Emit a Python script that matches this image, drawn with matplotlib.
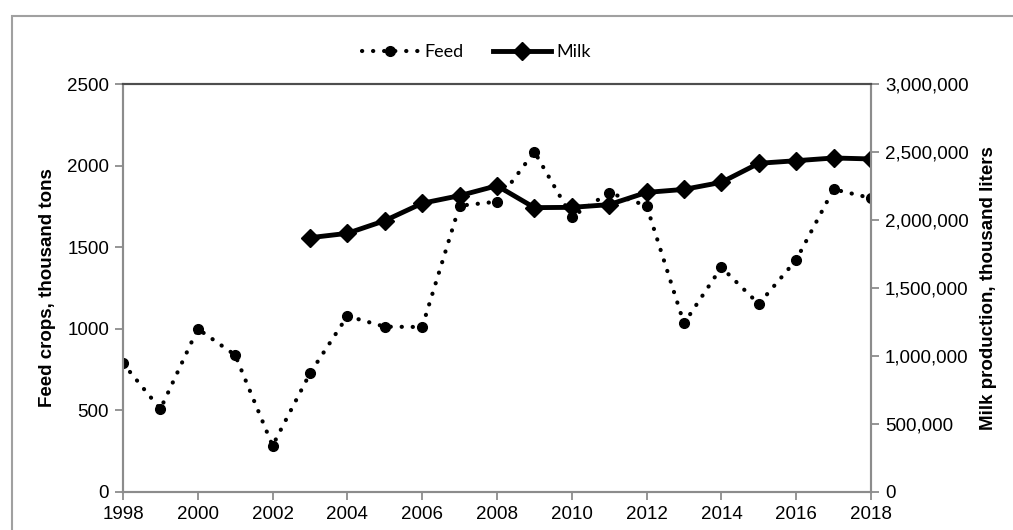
import numpy as np
import matplotlib
matplotlib.use('Agg')
import matplotlib.pyplot as plt
from matplotlib.patches import Rectangle
from matplotlib.ticker import FuncFormatter

years = list(range(1998, 2019))
feed = [788, 508, 1000, 839, 284, 727, 1078, 1013, 1011, 1754, 1779,
        2085, 1687, 1834, 1754, 1033, 1377, 1152, 1422, 1855, 1801]
milk_years = list(range(2003, 2019))
milk = [1870000, 1902000, 1995000, 2123000, 2179000, 2252000, 2091000, 2093000,
        2113000, 2203000, 2225000, 2277000, 2417000, 2436000, 2456000, 2449000]

plt.rcParams['font.family'] = ['Liberation Sans', 'DejaVu Sans']

fig = plt.figure(figsize=(10.13, 5.3), dpi=100)
ax = fig.add_axes([0.1214, 0.0717, 0.7384, 0.7698])
ax2 = ax.twinx()

# 外框
fig.patches.append(Rectangle((0.0114, -0.2), 1.2, 0.9698 + 0.2, transform=fig.transFigure,
                             fill=False, edgecolor='#a0a0a0', linewidth=1.5))

l1, = ax.plot(years, feed, color='black', linestyle=(0, (0.05, 2.6)), dash_capstyle='round',
              linewidth=3.0, marker='o', markersize=7, label='Feed')
l2, = ax2.plot(milk_years, milk, color='black', linewidth=3.5, marker='D', markersize=9, label='Milk')

ax.set_xlim(1998, 2018)
ax.set_ylim(0, 2500)
ax2.set_ylim(0, 3000000)
ax.set_xticks(range(1998, 2019, 2))
ax.set_yticks(range(0, 2501, 500))
ax2.set_yticks(range(0, 3000001, 500000))
ax2.yaxis.set_major_formatter(FuncFormatter(lambda v, p: f'{int(v):,}'))

for a in (ax, ax2):
    for s in a.spines.values():
        s.set_color('#8c8c8c')
        s.set_linewidth(1.5)
    a.spines['top'].set_color('#4d4d4d')
    a.tick_params(direction='out', length=6, width=1.3, color='#8c8c8c', labelsize=13.5, pad=4)

ax.set_ylabel('Feed crops, thousand tons', fontsize=13.5, fontweight='bold', labelpad=8)
ax2.set_ylabel('Milk production, thousand liters', fontsize=13.5, fontweight='bold', labelpad=8)

fig.legend(handles=[l1, l2], loc='center', bbox_to_anchor=(476 / 1013, 1 - 52 / 530),
           ncol=2, frameon=False, prop={'family': 'Lato', 'size': 13},
           handlelength=3.2, handletextpad=0.3, columnspacing=1.6)

plt.savefig('out.png', dpi=100)
